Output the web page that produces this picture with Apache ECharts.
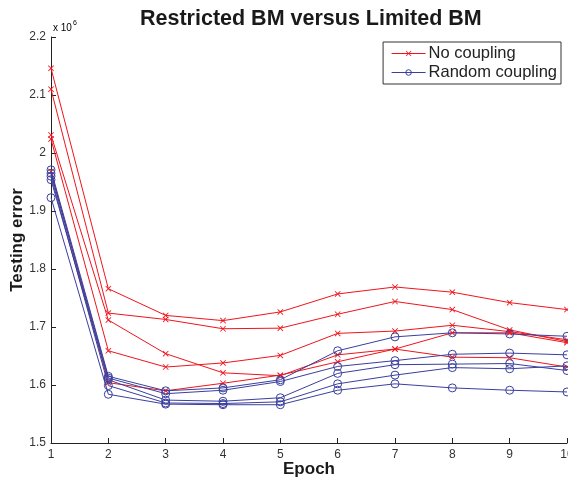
<!DOCTYPE html>
<html>
<head>
<meta charset="utf-8">
<script src="https://cdn.jsdelivr.net/npm/echarts@6/dist/echarts.min.js"></script>
<style>
  html, body { margin: 0; padding: 0; background: #fff; }
  #chart { width: 568px; height: 479px; }
</style>
</head>
<body>
<div id="chart"></div>
<script>
// testing error in units of 1e6, one run per array
const epochs = [1, 2, 3, 4, 5, 6, 7, 8, 9, 10]

const noCouplingRuns = [
  [2.146, 1.766, 1.720, 1.711, 1.726, 1.757, 1.769, 1.760, 1.742, 1.730],
  [2.110, 1.724, 1.713, 1.697, 1.698, 1.722, 1.744, 1.730, 1.695, 1.675],
  [2.031, 1.712, 1.654, 1.621, 1.616, 1.652, 1.662, 1.648, 1.647, 1.631],
  [2.024, 1.659, 1.631, 1.638, 1.651, 1.689, 1.693, 1.703, 1.692, 1.678],
  [1.968, 1.604, 1.590, 1.603, 1.617, 1.640, 1.662, 1.690, 1.690, 1.673],
]

const randomCouplingRuns = [
  [1.971, 1.615, 1.590, 1.595, 1.609, 1.659, 1.683, 1.690, 1.688, 1.684],
  [1.965, 1.612, 1.585, 1.591, 1.606, 1.632, 1.642, 1.653, 1.655, 1.652],
  [1.954, 1.609, 1.574, 1.572, 1.578, 1.620, 1.635, 1.636, 1.637, 1.625],
  [1.960, 1.599, 1.569, 1.568, 1.571, 1.602, 1.617, 1.630, 1.628, 1.633],
  [1.923, 1.584, 1.567, 1.566, 1.566, 1.591, 1.602, 1.595, 1.591, 1.588],
]

const yTicks = { min: 1.5, max: 2.2, step: 0.1 }

const RED = '#f0141c'
const BLUE = '#3a3f9e'
const FONT = 'Liberation Sans, Arial, Helvetica, sans-serif'
const CROSS = 'path://M0,1L1,0L5,4L9,0L10,1L6,5L10,9L9,10L5,6L1,10L0,9L4,5Z'
const NONE = 'rgba(0,0,0,0)'

function toPoints(run) {
  return run.map((v, i) => [epochs[i], v])
}

const series = []
noCouplingRuns.forEach(run => {
  series.push({
    name: 'No coupling',
    type: 'line',
    data: toPoints(run),
    symbol: CROSS,
    symbolSize: 6,
    showAllSymbol: true,
    itemStyle: { color: RED },
    lineStyle: { color: RED, width: 1 },
    emphasis: { disabled: true },
  })
})
randomCouplingRuns.forEach(run => {
  series.push({
    name: 'Random coupling',
    type: 'line',
    data: toPoints(run),
    symbol: 'circle',
    symbolSize: 8,
    showAllSymbol: true,
    itemStyle: { color: NONE, borderColor: BLUE, borderWidth: 1 },
    lineStyle: { color: BLUE, width: 1 },
    emphasis: { disabled: true },
  })
})

const chart = echarts.init(document.getElementById('chart'))
chart.setOption({
  animation: false,
  backgroundColor: '#fff',
  title: {
    text: 'Restricted BM versus Limited BM',
    left: 140,
    top: 8,
    padding: 0,
    textStyle: { fontFamily: FONT, fontSize: 21.5, fontWeight: 'bold', color: '#1a1a1a' },
  },
  legend: {
    data: [
      {
        name: 'No coupling',
        itemStyle: { color: RED, borderWidth: 0 },
        lineStyle: { color: RED, width: 1 },
      },
      {
        name: 'Random coupling',
        itemStyle: { color: NONE, borderColor: BLUE, borderWidth: 1 },
        lineStyle: { color: BLUE, width: 1 },
      },
    ],
    orient: 'vertical',
    right: 7,
    top: 42,
    padding: [3, 4, 3, 8],
    itemGap: 2,
    itemWidth: 34,
    itemHeight: 7,
    backgroundColor: '#fff',
    borderColor: '#333',
    borderWidth: 1,
    borderRadius: 0,
    textStyle: { fontFamily: FONT, fontSize: 16.5, color: '#222', padding: [0, 0, 0, -2] },
  },
  grid: { left: 51, right: 1, top: 37, bottom: 36, outerBoundsMode: 'none' },
  xAxis: {
    type: 'value',
    min: 1,
    max: 10,
    interval: 1,
    name: 'Epoch',
    nameLocation: 'middle',
    nameGap: 18,
    nameMoveOverlap: false,
    nameTextStyle: { fontFamily: FONT, fontSize: 17, fontWeight: 'bold', color: '#1a1a1a' },
    axisLine: { lineStyle: { color: '#222', width: 1 } },
    axisTick: { inside: true, length: 5, lineStyle: { color: '#222' } },
    axisLabel: { fontFamily: FONT, fontSize: 12, color: '#333', margin: 6 },
    splitLine: { show: false },
  },
  yAxis: {
    type: 'value',
    min: yTicks.min,
    max: yTicks.max,
    interval: yTicks.step,
    name: 'Testing error',
    nameLocation: 'middle',
    nameGap: 25,
    nameMoveOverlap: false,
    nameTextStyle: { fontFamily: FONT, fontSize: 17, fontWeight: 'bold', color: '#1a1a1a' },
    axisLine: { show: true, lineStyle: { color: '#222', width: 1 } },
    axisTick: { show: true, inside: true, length: 5, lineStyle: { color: '#222' } },
    axisLabel: {
      fontFamily: FONT,
      fontSize: 12,
      color: '#333',
      margin: 5,
      formatter: v => String(Math.round(v * 10) / 10),
    },
    splitLine: { show: false },
  },
  graphic: [
    {
      type: 'text',
      left: 53,
      top: 20,
      style: {
        text: '{a|x 10}{b|6}',
        rich: {
          a: { fontFamily: FONT, fontSize: 10, color: '#333', verticalAlign: 'bottom' },
          b: { fontFamily: FONT, fontSize: 7, color: '#333', verticalAlign: 'top', padding: [0, 0, 6, 1] },
        },
      },
    },
  ],
  series: series,
})
</script>
</body>
</html>
